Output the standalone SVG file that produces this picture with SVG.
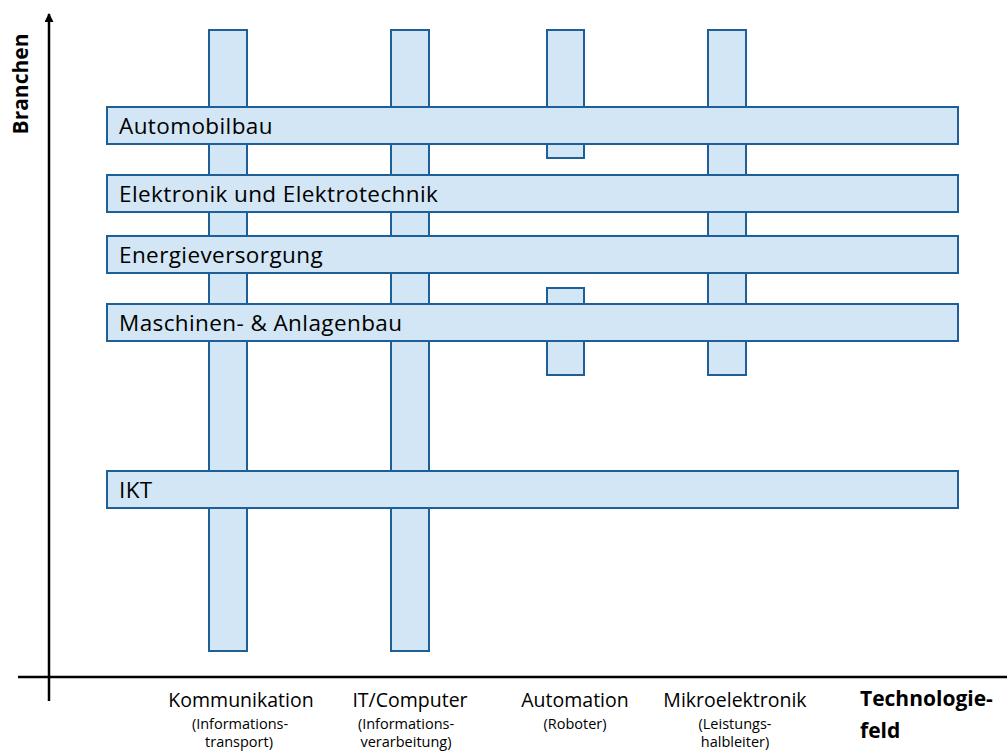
<svg xmlns="http://www.w3.org/2000/svg" width="1007" height="753" viewBox="0 0 1007 753">
<defs>
<style>
.bar{fill:#D2E6F5;stroke:#1F5F98;stroke-width:2}
.lbl{font-family:"Open Sans","Liberation Sans",sans-serif;font-size:22.5px;letter-spacing:0.4px;fill:#000}
.tl{font-family:"Open Sans","Liberation Sans",sans-serif;font-size:19.5px;fill:#000;text-anchor:middle}
.sl{font-family:"Open Sans","Liberation Sans",sans-serif;font-size:14.5px;fill:#000;text-anchor:middle}
.ax{font-family:"Open Sans","Liberation Sans",sans-serif;font-size:21px;font-weight:bold;fill:#000}
.axis{stroke:#000;stroke-width:2.5;fill:none}
</style>
<marker id="arr" markerWidth="10" markerHeight="10" refX="8" refY="4.5" orient="auto" markerUnits="userSpaceOnUse">
<path d="M0,0 L9,4.5 L0,9 Z" fill="#000"/>
</marker>
</defs>
<rect width="1007" height="753" fill="#fff"/>
<g id="connectors">
<line class="axis" x1="49" y1="701" x2="49" y2="14" marker-end="url(#arr)"/>
<line class="axis" x1="18" y1="677" x2="1007" y2="677"/>
</g>
<g id="tech-kommunikation">
<rect class="bar" x="209" y="30" width="38" height="621"/>
</g>
<g id="tech-it">
<rect class="bar" x="391" y="30" width="38" height="621"/>
</g>
<g id="tech-automation">
<rect class="bar" x="547" y="30" width="37" height="128"/>
<rect class="bar" x="547" y="288" width="37" height="87"/>
</g>
<g id="tech-mikro">
<rect class="bar" x="708" y="30" width="38" height="345"/>
</g>
<g id="branche-auto">
<rect class="bar" x="107" y="107" width="851" height="37"/>
<text class="lbl" x="119" y="134">Automobilbau</text>
</g>
<g id="branche-elektro">
<rect class="bar" x="107" y="175" width="851" height="37"/>
<text class="lbl" x="119" y="202">Elektronik und Elektrotechnik</text>
</g>
<g id="branche-energie">
<rect class="bar" x="107" y="236" width="851" height="37"/>
<text class="lbl" x="119" y="263">Energieversorgung</text>
</g>
<g id="branche-maschinen">
<rect class="bar" x="107" y="304" width="851" height="37"/>
<text class="lbl" x="119" y="331">Maschinen- &amp; Anlagenbau</text>
</g>
<g id="branche-ikt">
<rect class="bar" x="107" y="471" width="851" height="37"/>
<text class="lbl" x="119" y="498">IKT</text>
</g>
<g id="axis-y-label">
<text class="ax" font-size="20.5" text-anchor="middle" transform="translate(28,84) rotate(-90)">Branchen</text>
</g>
<g id="label-kommunikation">
<text class="tl" x="241" y="707">Kommunikation</text>
<text class="sl" x="240" y="729">(Informations-</text>
<text class="sl" x="239" y="747">transport)</text>
</g>
<g id="label-it">
<text class="tl" x="410" y="707">IT/Computer</text>
<text class="sl" x="406" y="729">(Informations-</text>
<text class="sl" x="406" y="747">verarbeitung)</text>
</g>
<g id="label-automation">
<text class="tl" x="575" y="707">Automation</text>
<text class="sl" x="575" y="729">(Roboter)</text>
</g>
<g id="label-mikro">
<text class="tl" x="735" y="707">Mikroelektronik</text>
<text class="sl" x="735" y="729">(Leistungs-</text>
<text class="sl" x="735" y="747">halbleiter)</text>
</g>
<g id="axis-x-label">
<text class="ax" font-size="22" x="860" y="706">Technologie-</text>
<text class="ax" font-size="22" x="860" y="738">feld</text>
</g>
</svg>
